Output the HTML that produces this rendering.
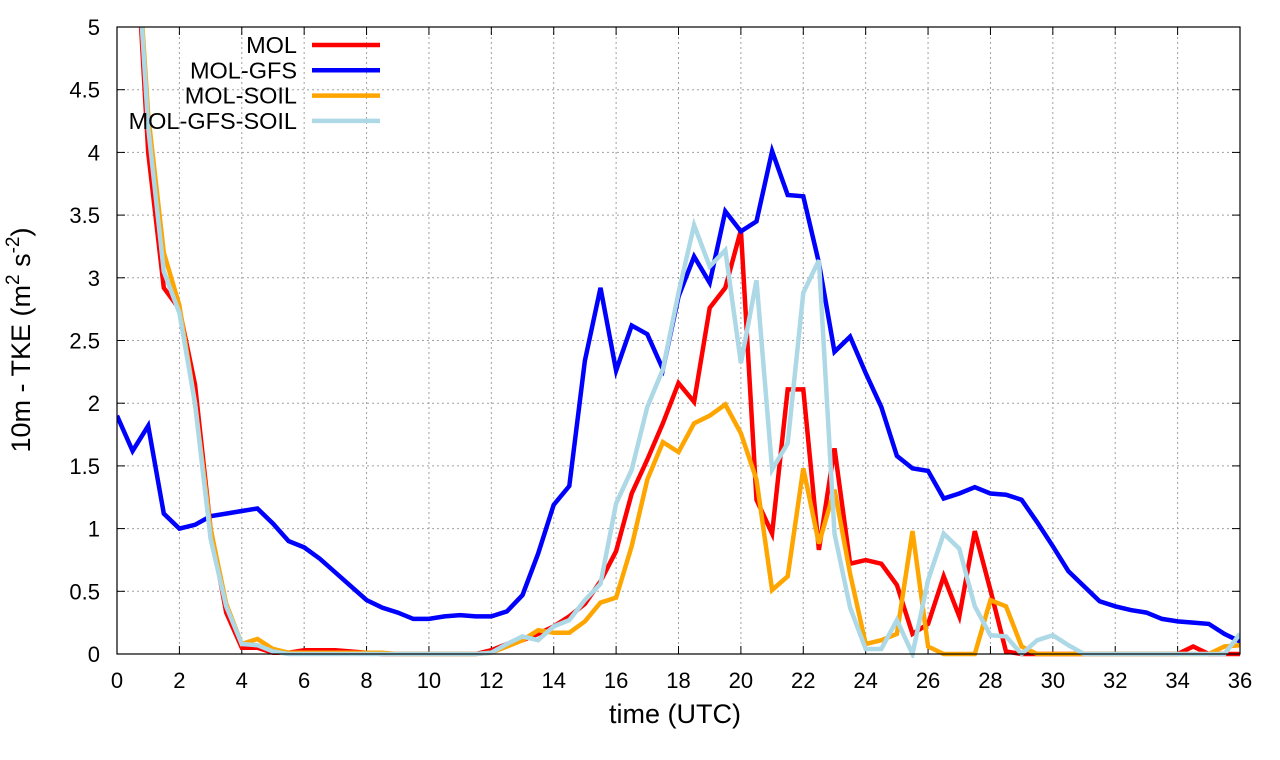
<!DOCTYPE html>
<html><head><meta charset="utf-8"><style>
html,body{margin:0;padding:0;background:#fff;}
svg{display:block;font-family:"Liberation Sans",sans-serif;}
</style></head><body>
<svg id="chart" width="1280" height="760" xmlns="http://www.w3.org/2000/svg"></svg>
<script>
const times = [];
for (let i = 0; i <= 72; i++) times.push(i * 0.5);
const xTicks = [0,2,4,6,8,10,12,14,16,18,20,22,24,26,28,30,32,34,36];
const yTicks = [0,0.5,1,1.5,2,2.5,3,3.5,4,4.5,5];
const yTickLabels = ["0","0.5","1","1.5","2","2.5","3","3.5","4","4.5","5"];
const seriesNames = ["MOL","MOL-GFS","MOL-SOIL","MOL-GFS-SOIL"];
const molValues = [7,6.2,4.0,2.92,2.75,2.15,1.0,0.33,0.05,0.05,0.01,0.01,0.03,0.03,0.03,0.02,0.01,0,0,0,0,0,0,0,0.03,0.08,0.11,0.16,0.22,0.30,0.40,0.58,0.82,1.28,1.55,1.84,2.16,2.01,2.76,2.92,3.38,1.23,0.96,2.11,2.11,0.83,1.64,0.72,0.75,0.72,0.55,0.16,0.24,0.62,0.30,0.98,0.51,0.02,0,0,0,0,0,0,0,0,0,0,0,0.06,0,0,0];
const gfsValues = [1.9,1.62,1.82,1.12,1.0,1.03,1.1,1.12,1.14,1.16,1.04,0.9,0.85,0.76,0.65,0.54,0.43,0.37,0.33,0.28,0.28,0.3,0.31,0.3,0.3,0.34,0.47,0.8,1.19,1.34,2.34,2.92,2.26,2.62,2.55,2.27,2.85,3.17,2.96,3.53,3.37,3.45,4.01,3.66,3.65,3.12,2.41,2.53,2.24,1.97,1.58,1.48,1.46,1.24,1.28,1.33,1.28,1.27,1.23,1.05,0.86,0.66,0.54,0.42,0.38,0.35,0.33,0.28,0.26,0.25,0.24,0.16,0.1];
const soilValues = [7,6.2,4.3,3.2,2.78,2.0,1.0,0.4,0.08,0.12,0.04,0.01,0.01,0.01,0.01,0.01,0.01,0.01,0,0,0,0,0,0,0.01,0.06,0.11,0.19,0.17,0.17,0.26,0.41,0.45,0.86,1.39,1.69,1.61,1.84,1.90,1.99,1.76,1.39,0.51,0.62,1.48,0.88,1.31,0.64,0.08,0.11,0.16,0.98,0.06,0,0,0,0.43,0.38,0.06,0,0,0,0,0,0,0,0,0,0,0,0,0.06,0.07];
const gfsSoilValues = [7,6.2,4.2,3.05,2.72,2.0,0.92,0.38,0.08,0.07,0.02,0,0,0,0,0,0,0,0,0,0,0,0,0,0.01,0.08,0.14,0.11,0.22,0.27,0.43,0.56,1.20,1.47,1.97,2.27,2.88,3.42,3.09,3.22,2.32,2.98,1.47,1.68,2.88,3.14,0.96,0.37,0.04,0.04,0.27,0,0.59,0.96,0.84,0.38,0.15,0.14,0,0.11,0.15,0.07,0,0,0,0,0,0,0,0,0,0,0.16];
const seriesValues = [molValues, gfsValues, soilValues, gfsSoilValues];
const colors = ["#ff0000","#0000ff","#ffa500","#add8e6"];
const seriesKeys = ["mol","mol-gfs","mol-soil","mol-gfs-soil"];

const L=117,R=1240,T=27,B=654;
const xScale = v => L + (v-0)/(36-0)*(R-L);
const yScale = v => B - (v-0)/(5-0)*(B-T);
const NS="http://www.w3.org/2000/svg";
const svg=document.getElementById('chart');
function mk(tag, attrs, parent){const e=document.createElementNS(NS,tag);for(const k in attrs)e.setAttribute(k,attrs[k]);(parent||svg).appendChild(e);return e;}

const defs=mk('defs',{});
const cp=mk('clipPath',{id:'plotclip'},defs);
mk('rect',{x:L,y:T,width:R-L,height:B-T+4},cp);

const grid=mk('g',{});


xTicks.forEach(t=>{ if(t>0&&t<36){const l=mk('line',{x1:xScale(t),x2:xScale(t),y1:T,y2:B,stroke:'#a0a0a0','stroke-width':1,'stroke-dasharray':'2,3'},grid);

}});
yTicks.forEach(t=>{ if(t>0&&t<5){const l=mk('line',{x1:L,x2:R,y1:yScale(t),y2:yScale(t),stroke:'#a0a0a0','stroke-width':1,'stroke-dasharray':'2,3'},grid);

}});

const xAxis=mk('g',{});


xTicks.forEach(t=>{const x=xScale(t);
mk('line',{x1:x,x2:x,y1:B,y2:B-8,stroke:'#000'},xAxis);
mk('line',{x1:x,x2:x,y1:T,y2:T+8,stroke:'#000'},xAxis);
const tx=mk('text',{x:x,y:B+34,'text-anchor':'middle','font-size':22,fill:'#000'},xAxis);tx.textContent=String(t);

});
const yAxis=mk('g',{});


yTicks.forEach((t,i)=>{const y=yScale(t);
mk('line',{x1:L,x2:L+8,y1:y,y2:y,stroke:'#000'},yAxis);
mk('line',{x1:R,x2:R-8,y1:y,y2:y,stroke:'#000'},yAxis);
const tx=mk('text',{x:100,y:y+8,'text-anchor':'end','font-size':22,fill:'#000'},yAxis);tx.textContent=yTickLabels[i];

});

const series=mk('g',{'clip-path':'url(#plotclip)'});


seriesValues.forEach((vals,si)=>{
 const pts=vals.map((v,i)=>xScale(times[i]).toFixed(1)+','+yScale(v).toFixed(1)).join(' ');
 const pl=mk('polyline',{points:pts,fill:'none',stroke:colors[si],'stroke-width':4.5,'stroke-linejoin':'miter'},series);
 
 
});

const frame=mk('rect',{x:L,y:T,width:R-L,height:B-T,fill:'none',stroke:'#000','stroke-width':1.2});



const legend=mk('g',{});


seriesNames.forEach((n,i)=>{const y=45+i*25.3;
 const e=mk('g',{},legend);
 
 
 const tx=mk('text',{x:297,y:y+8,'text-anchor':'end','font-size':23.5,fill:'#000'},e);tx.textContent=n;
 mk('line',{x1:312,x2:380,y1:y,y2:y,stroke:colors[i],'stroke-width':4.5},e);
});

const xt=mk('text',{x:675,y:723,'text-anchor':'middle','font-size':27,fill:'#000'});
xt.textContent='time (UTC)';


const yt=mk('text',{x:0,y:0,'text-anchor':'middle','font-size':27,fill:'#000',transform:'translate(30,340) rotate(-90)'});
yt.innerHTML='10m - TKE (m<tspan dy="-11" font-size="19">2</tspan><tspan dy="11"> s</tspan><tspan dy="-11" font-size="19">-2</tspan><tspan dy="11">)</tspan>';


</script>
</body></html>
